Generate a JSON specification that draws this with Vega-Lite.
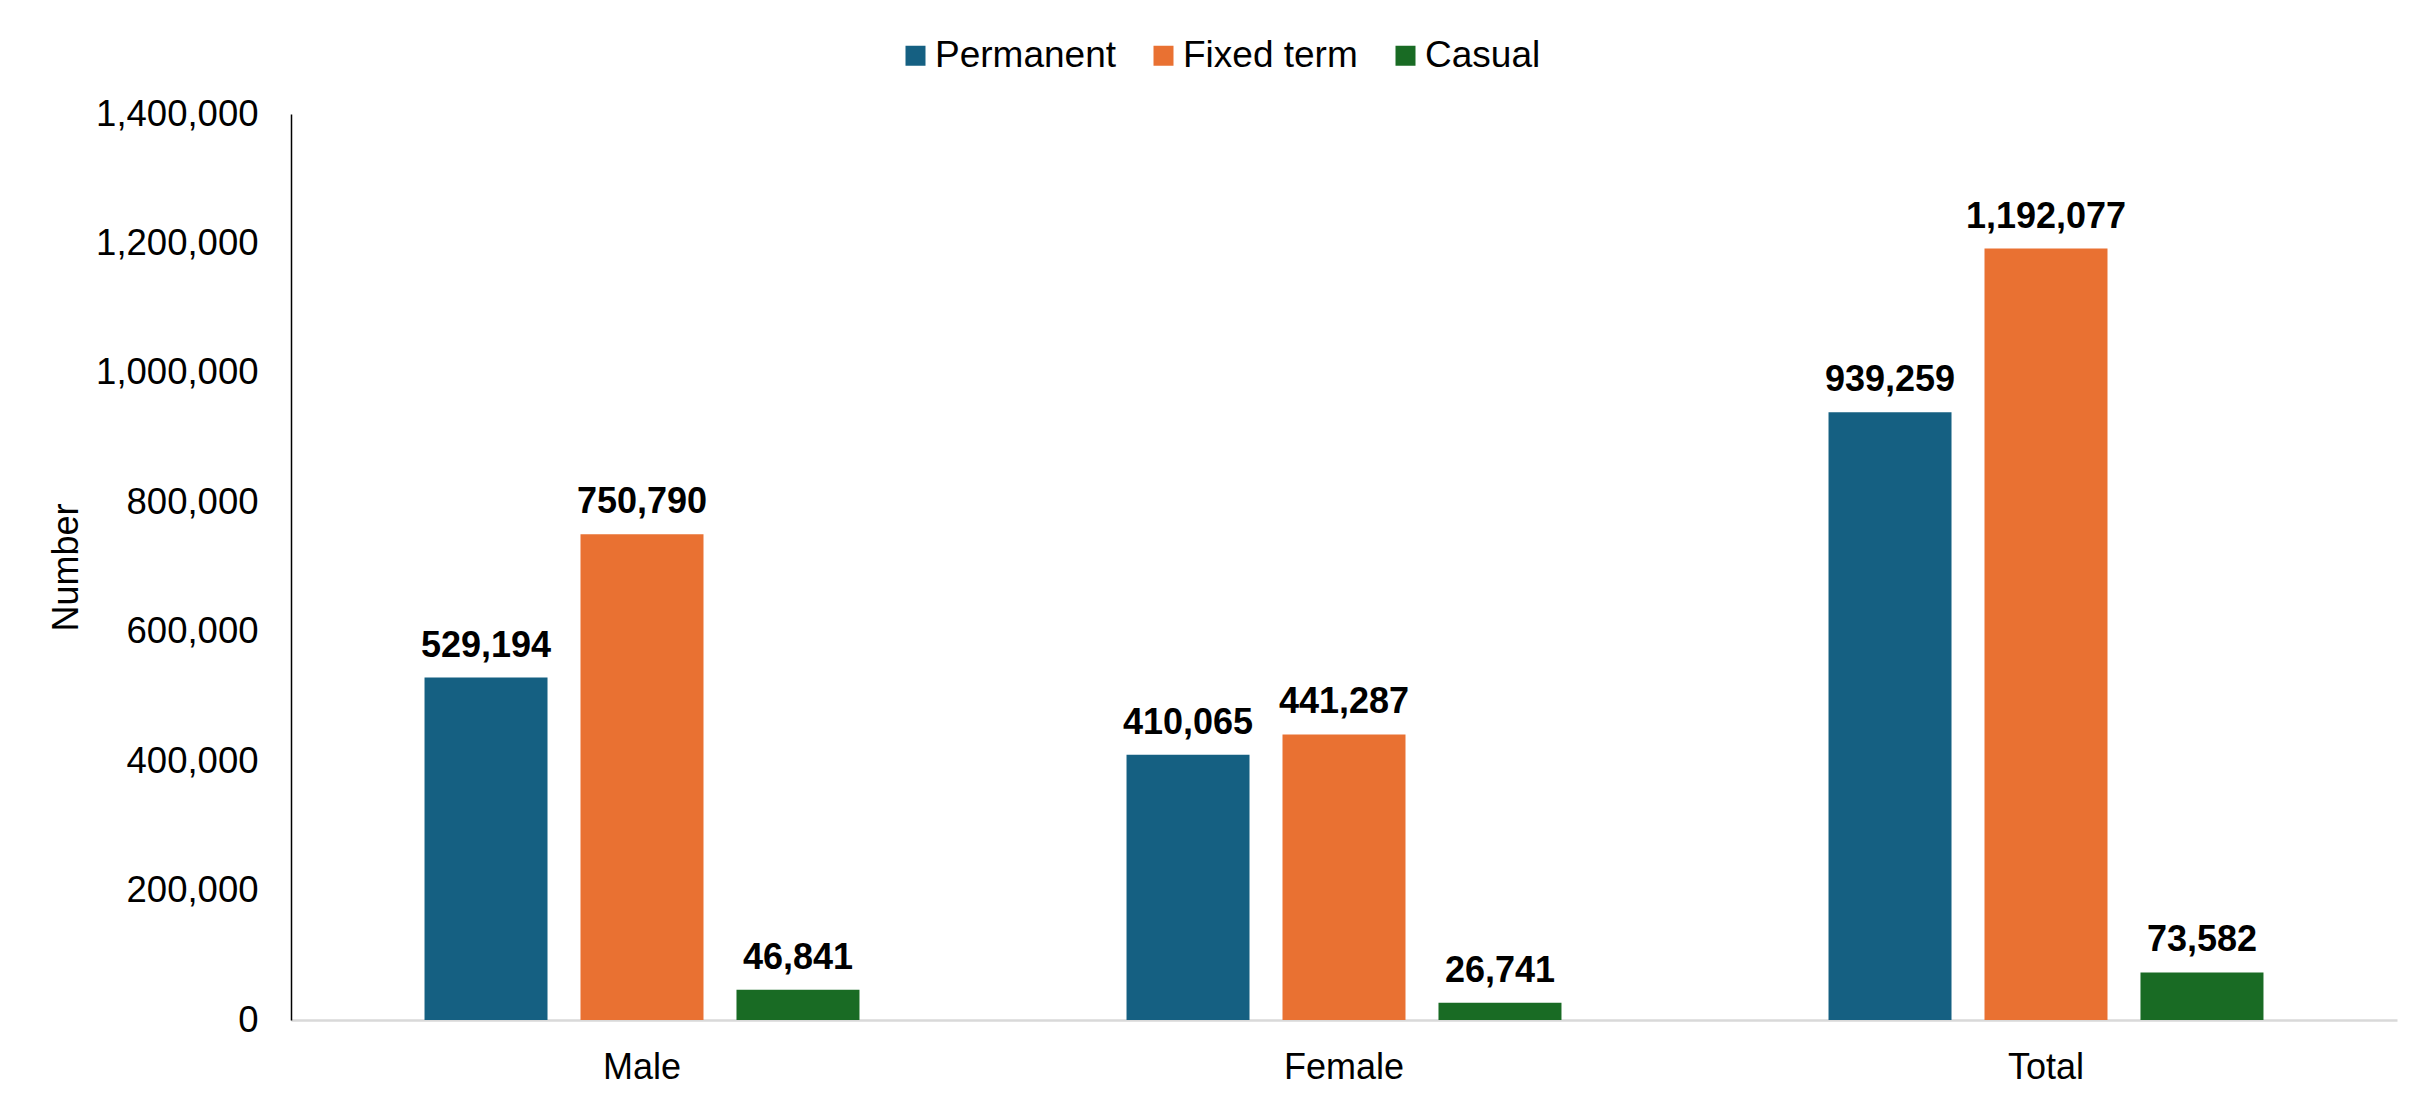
{
  "$schema": "https://vega.github.io/schema/vega-lite/v6.json",
  "autosize": {"type": "none"},
  "padding": {"left": 291, "top": 114, "right": 21, "bottom": 79},
  "width": 2106,
  "height": 906,
  "background": "white",
  "config": {
    "font": "Liberation Sans",
    "view": {"stroke": null}
  },
  "data": {
    "values": [
      {"group": "Male", "type": "Permanent", "value": 529194},
      {"group": "Male", "type": "Fixed term", "value": 750790},
      {"group": "Male", "type": "Casual", "value": 46841},
      {"group": "Female", "type": "Permanent", "value": 410065},
      {"group": "Female", "type": "Fixed term", "value": 441287},
      {"group": "Female", "type": "Casual", "value": 26741},
      {"group": "Total", "type": "Permanent", "value": 939259},
      {"group": "Total", "type": "Fixed term", "value": 1192077},
      {"group": "Total", "type": "Casual", "value": 73582}
    ]
  },
  "encoding": {
    "x": {
      "field": "group", "type": "nominal",
      "sort": ["Male", "Female", "Total"],
      "scale": {"paddingInner": 0, "paddingOuter": 0},
      "axis": {
        "title": null, "labelAngle": 0, "labelFontSize": 36, "labelColor": "#000000",
        "labelPadding": 30, "ticks": false, "tickSize": 0,
        "domainColor": "#d9d9d9", "domainWidth": 2.5, "grid": false
      }
    },
    "xOffset": {
      "field": "type", "type": "nominal",
      "sort": ["Permanent", "Fixed term", "Casual"],
      "scale": {"paddingInner": 0.2115, "paddingOuter": 0.856}
    },
    "y": {
      "field": "value", "type": "quantitative",
      "scale": {"domain": [0, 1400000], "nice": false},
      "axis": {
        "title": "Number", "titleFontSize": 36, "titleFontWeight": "normal", "titleColor": "#000000",
        "titlePadding": 10,
        "values": [0, 200000, 400000, 600000, 800000, 1000000, 1200000, 1400000],
        "format": ",d", "labelFontSize": 36.5, "labelColor": "#000000", "labelPadding": 33,
        "labelLimit": 400,
        "ticks": false, "tickSize": 0, "grid": false,
        "domainColor": "#000000", "domainWidth": 1.5
      }
    }
  },
  "layer": [
    {
      "mark": {"type": "bar"},
      "encoding": {
        "color": {
          "field": "type", "type": "nominal",
          "sort": ["Permanent", "Fixed term", "Casual"],
          "scale": {"domain": ["Permanent", "Fixed term", "Casual"], "range": ["#156082", "#E97132", "#196B24"]},
          "legend": {
            "title": null, "orient": "none", "direction": "horizontal",
            "legendX": 606, "legendY": -77,
            "symbolType": "square", "symbolSize": 400, "symbolStrokeWidth": 0,
            "labelFontSize": 37, "labelColor": "#000000", "labelOffset": 1,
            "labelLimit": 500, "columnPadding": 29
          }
        }
      }
    },
    {
      "mark": {"type": "text", "baseline": "alphabetic", "dy": -21, "fontSize": 36, "fontWeight": "bold", "color": "#000000"},
      "encoding": {
        "text": {"field": "value", "type": "quantitative", "format": ",d"}
      }
    }
  ]
}
